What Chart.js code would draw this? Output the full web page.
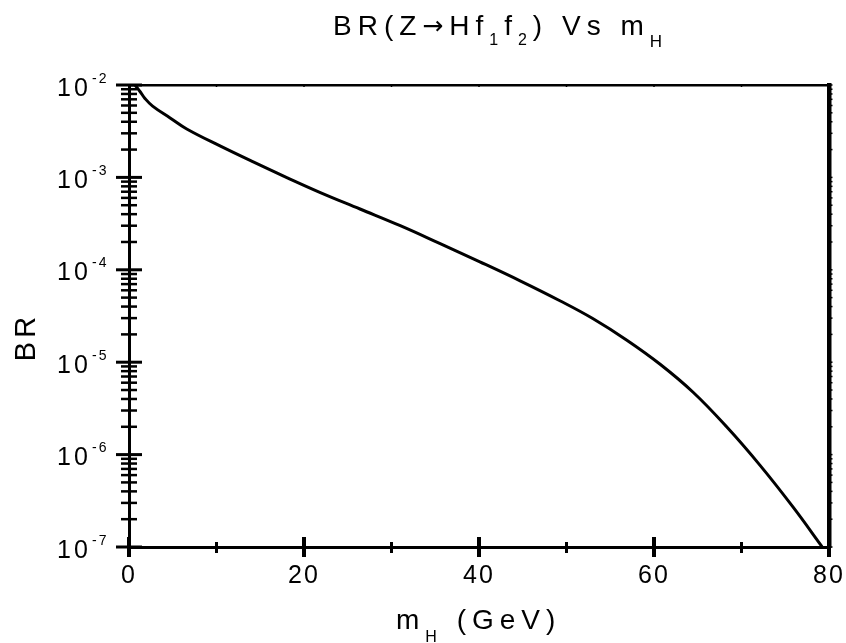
<!DOCTYPE html>
<html>
<head>
<meta charset="utf-8">
<title>BR vs mH</title>
<script src="https://cdn.jsdelivr.net/npm/chart.js@4"></script>
<style>
	body { margin: 0; background: #fff; }
	#wrap { width: 846px; height: 643px; position: relative; }
</style>
</head>
<body>
<div id="wrap"><canvas id="chart"></canvas></div>
<script>
'use strict'

// higgs mass (GeV)
var mH = [0.7, 1.3, 1.8, 2.7, 4.7, 6.6, 10.4, 14.2, 18.1, 21.8, 26.4, 31.0, 35.5, 40.1, 44.7, 49.3, 53.0, 56.9, 60.7, 64.5, 68.3, 72.1, 75.9, 79.2];
// branching ratio
var BR = [1.0e-2, 8.4e-3, 7.2e-3, 5.9e-3, 4.4e-3, 3.34e-3, 2.19e-3, 1.47e-3, 9.9e-4, 6.9e-4, 4.55e-4, 3.0e-4, 1.93e-4, 1.22e-4, 7.6e-5, 4.6e-5, 2.97e-5, 1.73e-5, 9.5e-6, 4.7e-6, 2.0e-6, 7.7e-7, 2.7e-7, 1.01e-7];

var xTicks = [0, 10, 20, 30, 40, 50, 60, 70, 80];
var xLabels = [0, 20, 40, 60, 80];
var yExponents = [-7, -6, -5, -4, -3, -2];

var FONT = '"Liberation Sans", Arial, sans-serif';

var points = [];
for (var k = 0; k < mH.length; k++) {
	points.push({x: mH[k], y: BR[k]});
}

//------------- text helper: runs of [text, size, dy, font] ------------- //
function drawRuns(ctx, x, y, runs, spacing) {
	ctx.letterSpacing = spacing + 'px';
	for (var r = 0; r < runs.length; r++) {
		ctx.font = runs[r][1] + 'px ' + (runs[r][3] || FONT);
		ctx.fillText(runs[r][0], x, y + (runs[r][2] || 0));
		x += ctx.measureText(runs[r][0]).width;
	}
}

var axisDecor = {
	id: 'axisDecor',
	afterDraw: function(chart) {
		var ctx = chart.ctx;
		var xs = chart.scales.x;
		var ys = chart.scales.y;
		var area = chart.chartArea;
		var i, e, m, p;

		ctx.save();
		ctx.strokeStyle = '#000';
		ctx.fillStyle = '#000';
		ctx.lineCap = 'butt';

		// y ticks, crossing the left axis
		for (e = -7; e <= -2; e++) {
			for (m = 1; m <= 9; m++) {
				if (e == -2 && m > 1) break;
				p = ys.getPixelForValue(m * Math.pow(10, e));
				var len = (m == 1) ? 13 : 8;
				ctx.lineWidth = (m == 1) ? 3 : 2.5;
				ctx.beginPath();
				ctx.moveTo(area.left - len, p);
				ctx.lineTo(area.left + len, p);
				ctx.stroke();
				// tiny marks on the right axis
				ctx.lineWidth = 1.5;
				ctx.beginPath();
				ctx.moveTo(area.right, p);
				ctx.lineTo(area.right + 3.5, p);
				ctx.stroke();
			}
		}

		// x ticks, crossing the bottom axis
		for (i = 0; i < xTicks.length; i++) {
			p = xs.getPixelForValue(xTicks[i]);
			var major = xTicks[i] % 20 == 0;
			ctx.lineWidth = major ? 4 : 3;
			ctx.beginPath();
			ctx.moveTo(p, area.bottom - (major ? 10 : 5));
			ctx.lineTo(p, area.bottom + (major ? 10 : 6));
			ctx.stroke();
			if (i > 0 && i < xTicks.length - 1) {
				ctx.lineWidth = 1.5;
				ctx.beginPath();
				ctx.moveTo(p, area.top);
				ctx.lineTo(p, area.top + 2);
				ctx.stroke();
			}
		}

		// x tick labels
		ctx.textAlign = 'center';
		ctx.textBaseline = 'alphabetic';
		ctx.font = '25px ' + FONT;
		ctx.letterSpacing = '2px';
		for (i = 0; i < xLabels.length; i++) {
			p = xs.getPixelForValue(xLabels[i]);
			ctx.fillText(String(xLabels[i]), p, area.bottom + 36);
		}

		// y tick labels 10^n
		ctx.textAlign = 'left';
		for (i = 0; i < yExponents.length; i++) {
			p = ys.getPixelForValue(Math.pow(10, yExponents[i]));
			drawRuns(ctx, 57, p + 10.5, [['10', 25, 0]], 3);
			drawRuns(ctx, 92, p + 10.5 - 13, [[String(yExponents[i]), 14, 0]], 2);
		}

		// title
		drawRuns(ctx, 333, 35, [
			['BR(Z', 28, 0], ['\u2192', 25, -1, '"DejaVu Sans", sans-serif'], ['Hf', 28, 0], ['1', 16, 10],
			['f', 28, 0], ['2', 16, 10], [') Vs m', 28, 0], ['H', 17, 12]
		], 6);

		// x axis title
		drawRuns(ctx, 396, 629, [['m', 28, 0], ['H', 16, 13], [' (GeV)', 28, 0]], 6);

		// y axis title
		ctx.translate(35, 339);
		ctx.rotate(-Math.PI / 2);
		ctx.textAlign = 'center';
		ctx.font = '29px ' + FONT;
		ctx.letterSpacing = '4px';
		ctx.fillText('BR', 2, 0);

		ctx.restore();
	}
};

function plainAxis(type, pos, min, max, width) {
	return {
		type: type,
		position: pos,
		min: min,
		max: max,
		grid: {display: false, drawTicks: false},
		ticks: {display: false},
		border: {display: true, color: '#000', width: width}
	};
}

window.onload = function() {
	var ctx = document.getElementById('chart').getContext('2d');

	var myChart = new Chart(ctx, {
		type: 'line',
		data: {
			datasets: [{
				label: 'BR',
				data: points,
				borderColor: '#000',
				borderWidth: 3,
				pointRadius: 0,
				fill: false,
				tension: 0.4,
				clip: 3
			}]
		},
		options: {
			responsive: true,
			maintainAspectRatio: false,
			animation: false,
			layout: {padding: {left: 129, top: 85, right: 17, bottom: 96}},
			plugins: {legend: {display: false}, title: {display: false}, tooltip: {enabled: false}},
			scales: {
				x: plainAxis('linear', 'bottom', 0, 80, 3),
				y: plainAxis('logarithmic', 'left', 1e-7, 1e-2, 3),
				x2: plainAxis('linear', 'top', 0, 80, 2.5),
				y2: plainAxis('logarithmic', 'right', 1e-7, 1e-2, 4.5)
			}
		},
		plugins: [axisDecor]
	});
};
</script>
</body>
</html>
